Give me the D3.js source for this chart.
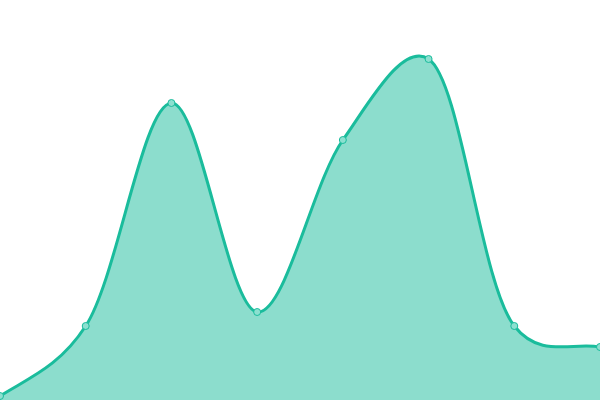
<!DOCTYPE html>
<meta charset="utf-8">
<head>
  <style>
    body { margin: 0; background: #fff; }
    svg { display: block; }
  </style>
</head>
<body>
  <script src="https://d3js.org/d3.v7.min.js"></script>
  <script>
    const width = 600, height = 400;

    // one point beyond each edge is clipped, only its pull on the curve shows
    const categories = [-1, 0, 1, 2, 3, 4, 5, 6, 7, 8];
    const values = [-35, 4, 74, 297, 88, 260, 341, 74, 53, 45];

    const step = width / 7;
    const x = d3.scalePoint().domain(categories).range([-step, width + step]);
    const y = d3.scaleLinear().domain([0, 400]).range([height, 0]);

    const data = categories.map((c, i) => ({ c, v: values[i] }));

    const svg = d3.select("body").append("svg")
      .attr("width", width)
      .attr("height", height);

    const curve = d3.curveCatmullRom.alpha(0.25);

    svg.append("path")
      .datum(data)
      .attr("fill", "#1abc9c")
      .attr("fill-opacity", 0.5)
      .attr("d", d3.area().curve(curve).x(d => x(d.c)).y0(height).y1(d => y(d.v)));

    svg.append("path")
      .datum(data)
      .attr("fill", "none")
      .attr("stroke", "#1abc9c")
      .attr("stroke-width", 3)
      .attr("d", d3.line().curve(curve).x(d => x(d.c)).y(d => y(d.v)));

    svg.selectAll("circle")
      .data(data)
      .join("circle")
      .attr("cx", d => x(d.c))
      .attr("cy", d => y(d.v))
      .attr("r", 3.5)
      .attr("fill", "#8ce0d0")
      .attr("stroke", "#1abc9c")
      .attr("stroke-width", 1);
  </script>
</body>
